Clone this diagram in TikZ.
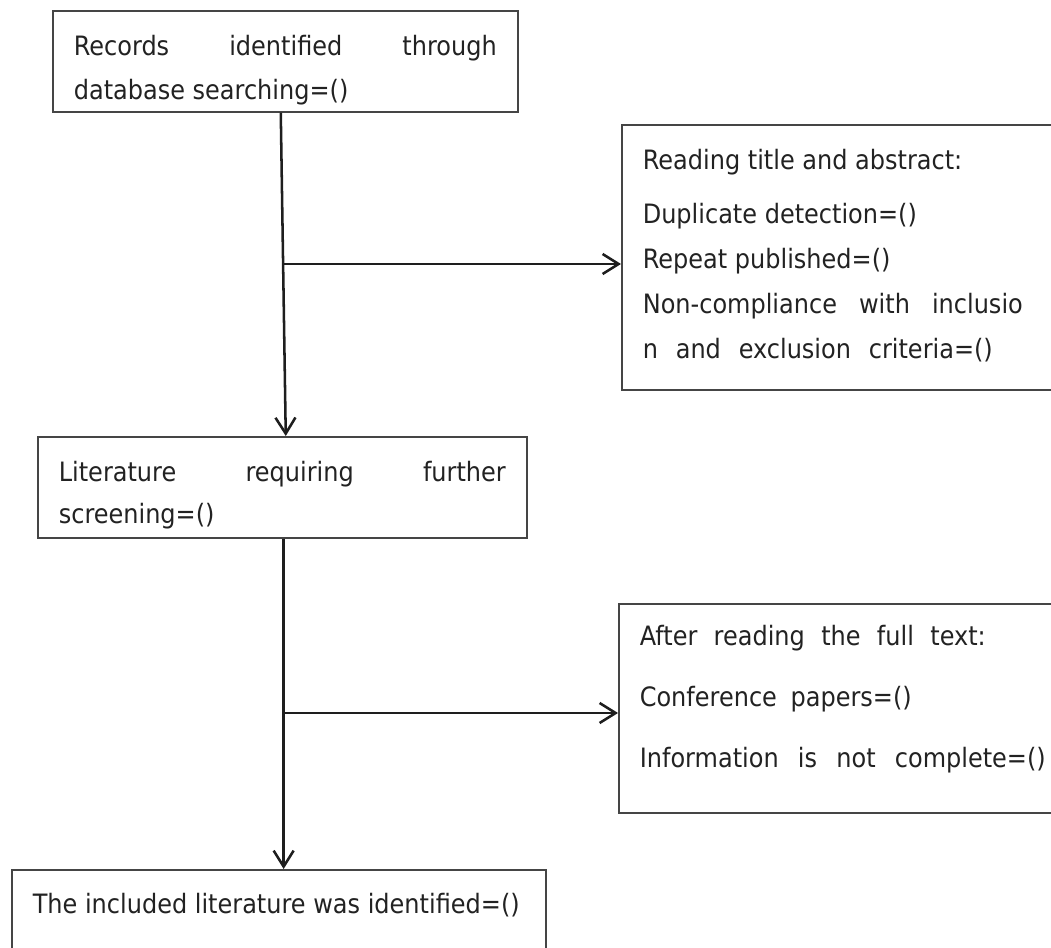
\documentclass[tikz,border=0pt]{standalone}
\usepackage{fontspec}
\setmainfont{DejaVu Sans}[FakeStretch=0.9]
\usetikzlibrary{arrows.meta}
\definecolor{boxgray}{HTML}{454545}
\definecolor{linegray}{HTML}{1E1E1E}
\definecolor{textgray}{HTML}{222222}
\newlength{\pxl}
\setlength{\pxl}{0.75pt}
% width, height, first baseline, baselineskip, text (all in pixels)
\newcommand{\boxtext}[5]{\parbox[c][#2\pxl][t]{#1\pxl}{\fontsize{20pt}{#4\pxl}\selectfont\rule{0pt}{#3\pxl}#5}}
\newcommand{\spread}[2]{\makebox[#1\pxl][s]{#2}}
\begin{document}
\begin{tikzpicture}[x=0.75pt, y=-0.75pt,
	stage/.style={draw=boxgray, line width=1.2pt, inner xsep=15.75pt, inner ysep=0pt, anchor=north west, text=textgray},
	flow/.style={draw=linegray, line width=1.9pt, -{Straight Barb[length=12pt, width=15pt]}}]
	\useasboundingbox (0,0) rectangle (1051,948);
	\clip (0,0) rectangle (1051,948);
	\node[stage] (rec) at (52,10) {\boxtext{423}{101}{45}{44}{\spread{423}{Records identified through}\\database searching=()}};
	\node[stage] (lit) at (37,436) {\boxtext{447}{101}{45}{42}{\spread{447}{Literature requiring further}\\screening=()}};
	\node[stage] (incl) at (11,869) {\boxtext{492}{120}{44}{44}{The included literature was identified=()}};
	\node[stage] (excl1) at (621,124) {\boxtext{500}{265}{45}{45}{Reading title and abstract:\\[9\pxl]Duplicate detection=()\\Repeat published=()\\\spread{380}{Non-compliance with inclusio}\\\spread{350}{n and exclusion criteria=()}}};
	\node[stage] (excl2) at (618,603) {\boxtext{500}{209}{42}{61}{\spread{346}{After reading the full text:}\\\spread{272}{Conference papers=()}\\\spread{406}{Information is not complete=()}}};
	\coordinate (split1) at (283,264);
	\coordinate (split2) at (283,713);
	\draw[flow] ([xshift=-3.4pt]rec.south) -- ([xshift=2.6pt]lit.north);
	\draw[flow] (split1) -- (split1 -| excl1.west);
	\draw[flow] ([xshift=1pt]lit.south) -- ([xshift=1pt]lit.south |- incl.north);
	\draw[flow] (split2) -- (split2 -| excl2.west);
\end{tikzpicture}
\end{document}
